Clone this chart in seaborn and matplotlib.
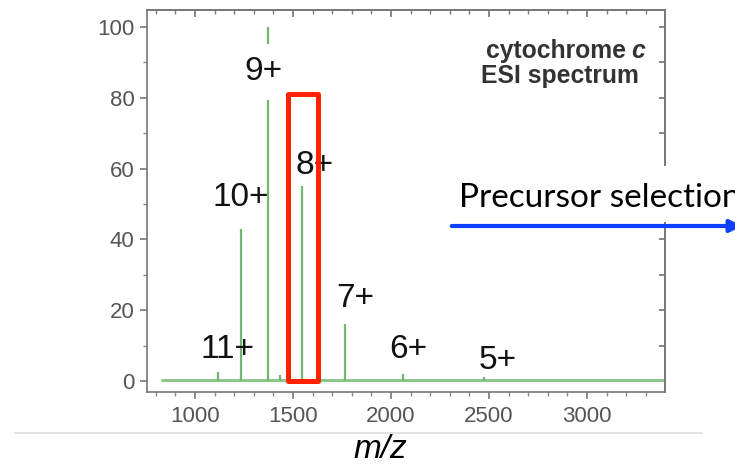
import matplotlib.pyplot as plt
import matplotlib.patches as patches
from matplotlib.lines import Line2D
from matplotlib.ticker import MultipleLocator
import seaborn as sns

# peak positions (m/z) and relative intensities
peak_mz = [1117, 1236, 1372, 1434, 1546, 1766, 2060, 2472]
peak_int = [2.5, 43, 100, 1.8, 55, 16, 2.0, 1.0]

# baseline of the spectrum
baseline_mz = [830, 3400]
baseline_int = [0.3, 0.3]

# charge-state labels and where they sit
charge_labels = ["11+", "10+", "9+", "8+", "7+", "6+", "5+"]
label_mz = [1168, 1235, 1347, 1612, 1816, 2087, 2546]
label_y = [8.8, 51.7, 87.3, 61.0, 23.4, 8.8, 5.9]

x_ticks = [1000, 1500, 2000, 2500, 3000]
y_ticks = [0, 20, 40, 60, 80, 100]

# precursor selection window (m/z) and its height
window_mz = [1472, 1625]
window_top = 81

W, H = 735, 468


def fx(px):
    return px / W


def fy(py):
    return 1 - py / H


sns.set_theme(style="ticks")
plt.rcParams["font.family"] = ["Liberation Sans", "DejaVu Sans"]

fig = plt.figure(figsize=(7.35, 4.68), dpi=100)
ax = fig.add_axes([0.2, 0.1624, 0.7048, 0.8162])
ax.set_facecolor("white")

sns.lineplot(x=baseline_mz, y=baseline_int, ax=ax, color="#8cc88c", linewidth=2.2)
ax.vlines(peak_mz, 0, peak_int, color="#74b574", linewidth=1.6)

for lab, xm, ym in zip(charge_labels, label_mz, label_y):
    box = None
    if lab == "9+":
        box = dict(facecolor="white", edgecolor="none", pad=9)
    ax.text(xm, ym, lab, fontsize=24, color="#111111",
            ha="center", va="center", bbox=box, zorder=3)

ax.add_patch(patches.Rectangle(
    (window_mz[0], 0), window_mz[1] - window_mz[0], window_top,
    fill=False, edgecolor="#ff2200", linewidth=3.6, joinstyle="round",
    zorder=5
))

# two-line sample note, top right
note = dict(fontsize=17.8, fontweight="bold", color="#333333", va="baseline")
fig.text(fx(645), fy(58), "c", fontstyle="italic", ha="right", **note)
fig.text(fx(626), fy(58), "cytochrome", ha="right", **note)
fig.text(fx(639), fy(83), "ESI spectrum", ha="right", **note)

ax.set_xlim(755, 3398)
ax.set_ylim(-3.1, 104.8)
ax.set_xticks(x_ticks)
ax.set_yticks(y_ticks)
ax.xaxis.set_minor_locator(MultipleLocator(100))
ax.yaxis.set_minor_locator(MultipleLocator(10))
ax.tick_params(which="major", direction="out", length=5, width=1.2,
               color="#777777", labelcolor="#555555", labelsize=16, pad=4)
ax.tick_params(which="minor", direction="out", length=3, width=1.0, color="#888888")
ax.tick_params(axis="x", which="major", pad=5)

for s in ax.spines.values():
    s.set_color("#777777")
    s.set_linewidth(1.2)

top = ax.secondary_xaxis("top")
top.set_xticks(x_ticks)
top.xaxis.set_minor_locator(MultipleLocator(100))
top.tick_params(which="both", direction="in", labeltop=False, color="#777777")
top.tick_params(which="major", length=5)
top.tick_params(which="minor", length=3)
top.spines["top"].set_color("#777777")

right = ax.secondary_yaxis("right")
right.set_yticks(list(range(0, 101, 10)))
right.tick_params(direction="in", length=4, labelright=False, color="#777777")
right.spines["right"].set_color("#777777")

ax.set_xlabel("")
ax.set_ylabel("")
fig.text(fx(380), fy(450), "m/z", fontsize=24, fontstyle="italic",
         ha="center", va="center", color="black")

fig.add_artist(Line2D([fx(15), fx(702)], [fy(433)] * 2,
                      color="#dddddd", linewidth=1.2))

# white panel behind the annotation, hiding part of the right spine
fig.add_artist(patches.Rectangle((fx(445), fy(222)), 290 / W, 56 / H,
                                 transform=fig.transFigure, facecolor="white",
                                 edgecolor="none", zorder=10))
fig.text(fx(459), fy(207), "Precursor selection", family=["Lato", "DejaVu Sans"],
         fontsize=24, color="black", ha="left", va="baseline", zorder=11)
fig.add_artist(patches.FancyArrowPatch(
    (fx(449), fy(226)), (fx(745), fy(226)),
    transform=fig.transFigure, arrowstyle="-|>", mutation_scale=18,
    color="#1040ff", linewidth=3, zorder=12
))

fig.savefig("out.png", dpi=100)
